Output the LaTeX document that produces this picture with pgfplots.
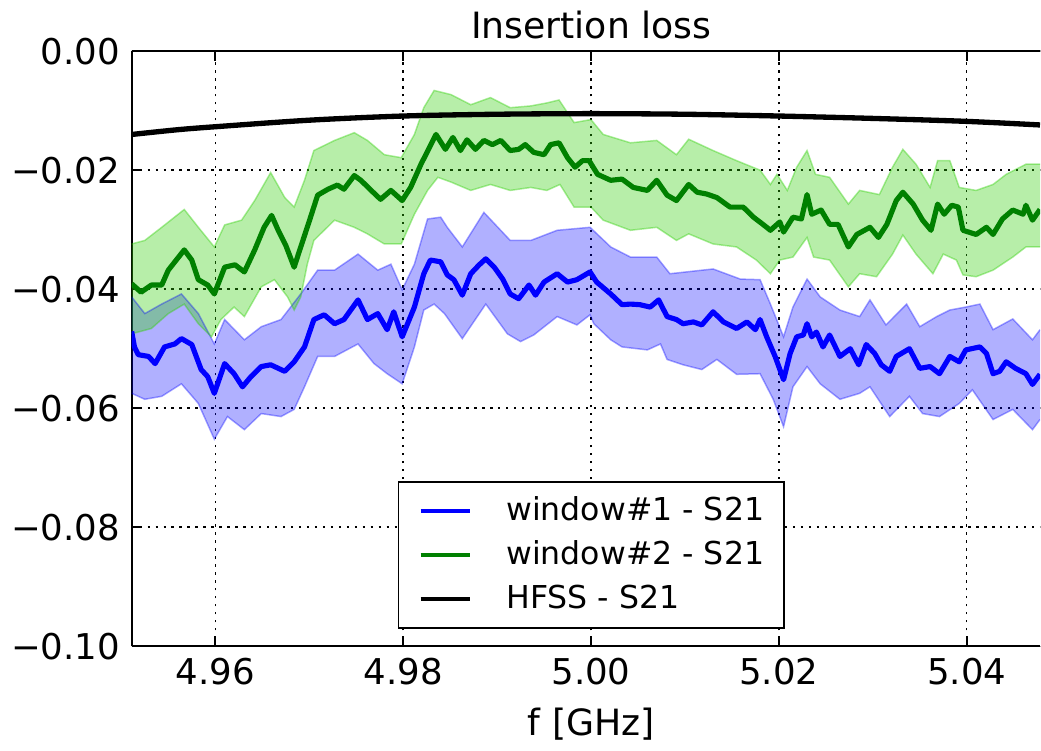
\documentclass[border=0pt]{standalone}
\usepackage{fontspec}
\setmainfont{DejaVu Sans}
\usepackage{pgfplots}
\pgfplotsset{compat=1.18}
\usepgfplotslibrary{fillbetween}
\definecolor{bandgreen}{rgb}{0.19,0.81,0.03}
\definecolor{mplgreen}{rgb}{0,0.5,0}
\begin{document}
\begin{tikzpicture}
\begin{axis}[
  scale only axis, width=273.6pt, height=179.25pt,
  xmin=4.9511, xmax=5.0478, ymin=-0.10, ymax=0,
  axis x line*=box, axis y line*=left,
  tick align=inside, major tick length=3pt,
  xtick={4.96,4.98,5.00,5.02,5.04},
  xticklabels={4.96,4.98,5.00,5.02,5.04},
  ytick={-0.10,-0.08,-0.06,-0.04,-0.02,0},
  yticklabels={−0.10,−0.08,−0.06,−0.04,−0.02,0.00},
  ticklabel style={font=\fontsize{10.7}{12}\selectfont},
  grid=major,
  grid style={black, line width=0.45pt, dash pattern=on 0.7pt off 1.7pt},
  axis line style={line width=0.6pt},
  every tick/.style={black, line width=0.6pt},
  every axis title shift=0pt,
  title={Insertion loss},
  title style={font=\fontsize{10.9}{12}\selectfont, at={(0.506,1)}, anchor=base, yshift=3.8pt},
  xlabel={f [GHz]},
  xlabel style={font=\fontsize{10.9}{12}\selectfont, at={(ticklabel cs:0.506)}},
  legend style={at={(0.506,0.0285)}, anchor=south, draw=black, line width=0.6pt,
    font=\fontsize{9.5}{11}\selectfont, inner xsep=6pt, inner ysep=4.5pt, row sep=4.6pt,
    nodes={inner sep=0pt},
    /tikz/every odd column/.append style={column sep=10.2pt}},
  legend cell align=left,
  legend image code/.code={\draw[#1, line width=1.3pt] (0pt,0pt) -- (15pt,0pt);},
]
% ---- blue band (window #1)
\addplot[name path=bu, draw=blue, draw opacity=0.35, line width=0.45pt, forget plot] table {
4.9511 -0.0413
4.9525 -0.0441
4.9543 -0.0425
4.9564 -0.0408
4.9582 -0.0441
4.9599 -0.0492
4.9610 -0.0451
4.9631 -0.0485
4.9649 -0.0463
4.9670 -0.0451
4.9691 -0.0408
4.9709 -0.0368
4.9727 -0.0368
4.9752 -0.0341
4.9773 -0.0368
4.9787 -0.0358
4.9799 -0.0401
4.9812 -0.0358
4.9826 -0.0282
4.9840 -0.0279
4.9847 -0.0296
4.9863 -0.0329
4.9886 -0.0271
4.9914 -0.0318
4.9936 -0.0318
4.9964 -0.0301
4.9999 -0.0296
5.0021 -0.0329
5.0042 -0.0346
5.0070 -0.0346
5.0084 -0.0374
5.0130 -0.0366
5.0159 -0.0383
5.0180 -0.0384
5.0191 -0.0425
5.0205 -0.0480
5.0215 -0.0430
5.0230 -0.0383
5.0244 -0.0413
5.0265 -0.0435
5.0286 -0.0446
5.0297 -0.0418
5.0314 -0.0460
5.0336 -0.0425
5.0350 -0.0463
5.0368 -0.0446
5.0382 -0.0435
5.0399 -0.0430
5.0414 -0.0425
5.0428 -0.0468
5.0449 -0.0450
5.0470 -0.0485
5.0478 -0.0468
};
\addplot[name path=bl, draw=blue, draw opacity=0.35, line width=0.45pt, forget plot] table {
4.9511 -0.0575
4.9525 -0.0585
4.9543 -0.0580
4.9564 -0.0559
4.9582 -0.0592
4.9599 -0.0652
4.9613 -0.0614
4.9631 -0.0636
4.9649 -0.0609
4.9670 -0.0614
4.9684 -0.0602
4.9695 -0.0564
4.9709 -0.0513
4.9727 -0.0513
4.9752 -0.0492
4.9769 -0.0525
4.9783 -0.0542
4.9799 -0.0559
4.9812 -0.0497
4.9822 -0.0435
4.9833 -0.0425
4.9844 -0.0441
4.9863 -0.0483
4.9888 -0.0425
4.9911 -0.0475
4.9925 -0.0488
4.9939 -0.0477
4.9964 -0.0446
4.9985 -0.0460
4.9999 -0.0443
5.0003 -0.0458
5.0021 -0.0485
5.0033 -0.0497
5.0060 -0.0502
5.0074 -0.0492
5.0081 -0.0518
5.0098 -0.0527
5.0118 -0.0535
5.0134 -0.0518
5.0155 -0.0543
5.0180 -0.0542
5.0194 -0.0585
5.0205 -0.0631
5.0215 -0.0564
5.0230 -0.0530
5.0244 -0.0559
5.0265 -0.0585
5.0286 -0.0575
5.0297 -0.0564
5.0318 -0.0614
5.0339 -0.0580
5.0353 -0.0609
5.0371 -0.0614
5.0392 -0.0592
5.0406 -0.0569
5.0428 -0.0619
5.0449 -0.0602
5.0470 -0.0636
5.0478 -0.0619
};
\addplot[fill=blue, fill opacity=0.31, draw=none, forget plot] fill between[of=bu and bl];
% ---- green band (window #2)
\addplot[name path=gu, draw=bandgreen, draw opacity=0.4, line width=0.45pt, forget plot] table {
4.9511 -0.0324
4.9525 -0.0318
4.9543 -0.0296
4.9567 -0.0266
4.9582 -0.0296
4.9599 -0.0329
4.9610 -0.0292
4.9628 -0.0284
4.9642 -0.0251
4.9659 -0.0204
4.9674 -0.0246
4.9684 -0.0262
4.9695 -0.0217
4.9705 -0.0167
4.9727 -0.0150
4.9748 -0.0137
4.9762 -0.0150
4.9780 -0.0174
4.9798 -0.0179
4.9812 -0.0140
4.9822 -0.0095
4.9833 -0.0066
4.9851 -0.0073
4.9872 -0.0090
4.9893 -0.0078
4.9914 -0.0095
4.9936 -0.0092
4.9953 -0.0087
4.9966 -0.0082
4.9982 -0.0120
5.0000 -0.0115
5.0013 -0.0140
5.0042 -0.0154
5.0070 -0.0150
5.0091 -0.0174
5.0104 -0.0148
5.0130 -0.0167
5.0155 -0.0184
5.0180 -0.0200
5.0191 -0.0224
5.0198 -0.0207
5.0209 -0.0234
5.0219 -0.0195
5.0230 -0.0167
5.0239 -0.0207
5.0254 -0.0212
5.0274 -0.0257
5.0286 -0.0234
5.0307 -0.0241
5.0321 -0.0195
5.0332 -0.0165
5.0346 -0.0190
5.0361 -0.0229
5.0369 -0.0184
5.0382 -0.0184
5.0392 -0.0229
5.0410 -0.0234
5.0428 -0.0224
5.0442 -0.0207
5.0463 -0.0190
5.0478 -0.0190
};
\addplot[name path=gl, draw=bandgreen, draw opacity=0.4, line width=0.45pt, forget plot] table {
4.9511 -0.0475
4.9532 -0.0466
4.9550 -0.0441
4.9567 -0.0425
4.9582 -0.0458
4.9596 -0.0480
4.9606 -0.0451
4.9620 -0.0430
4.9631 -0.0446
4.9649 -0.0396
4.9663 -0.0384
4.9677 -0.0413
4.9684 -0.0435
4.9691 -0.0413
4.9698 -0.0358
4.9705 -0.0318
4.9727 -0.0284
4.9748 -0.0296
4.9762 -0.0307
4.9780 -0.0324
4.9798 -0.0324
4.9812 -0.0274
4.9826 -0.0234
4.9837 -0.0212
4.9851 -0.0220
4.9872 -0.0234
4.9893 -0.0224
4.9914 -0.0234
4.9936 -0.0229
4.9953 -0.0234
4.9967 -0.0224
4.9982 -0.0262
5.0000 -0.0262
5.0013 -0.0284
5.0042 -0.0301
5.0070 -0.0296
5.0091 -0.0318
5.0104 -0.0307
5.0130 -0.0324
5.0155 -0.0329
5.0176 -0.0351
5.0191 -0.0374
5.0201 -0.0351
5.0215 -0.0346
5.0230 -0.0313
5.0237 -0.0346
5.0254 -0.0351
5.0274 -0.0396
5.0286 -0.0374
5.0304 -0.0379
5.0321 -0.0341
5.0332 -0.0309
5.0346 -0.0341
5.0364 -0.0374
5.0375 -0.0341
5.0389 -0.0351
5.0396 -0.0376
5.0410 -0.0379
5.0428 -0.0368
5.0449 -0.0346
5.0463 -0.0329
5.0478 -0.0329
};
\addplot[fill=bandgreen, fill opacity=0.35, draw=none, forget plot] fill between[of=gu and gl];
% ---- window #1 - S21
\addplot[blue, line width=1.55pt, line join=round] table {
4.9511 -0.0471
4.9514 -0.0497
4.9518 -0.0510
4.9529 -0.0513
4.9536 -0.0525
4.9546 -0.0497
4.9557 -0.0492
4.9564 -0.0483
4.9575 -0.0493
4.9585 -0.0535
4.9592 -0.0547
4.9599 -0.0575
4.9610 -0.0525
4.9620 -0.0542
4.9629 -0.0564
4.9638 -0.0547
4.9649 -0.0530
4.9659 -0.0527
4.9674 -0.0538
4.9684 -0.0522
4.9695 -0.0497
4.9705 -0.0451
4.9716 -0.0443
4.9727 -0.0458
4.9737 -0.0451
4.9752 -0.0418
4.9762 -0.0451
4.9773 -0.0441
4.9783 -0.0468
4.9790 -0.0438
4.9799 -0.0480
4.9812 -0.0430
4.9822 -0.0374
4.9829 -0.0351
4.9840 -0.0354
4.9847 -0.0376
4.9854 -0.0384
4.9863 -0.0410
4.9872 -0.0374
4.9881 -0.0359
4.9888 -0.0349
4.9897 -0.0363
4.9906 -0.0383
4.9914 -0.0408
4.9923 -0.0416
4.9934 -0.0393
4.9941 -0.0410
4.9950 -0.0388
4.9964 -0.0374
4.9975 -0.0388
4.9985 -0.0384
4.9999 -0.0371
5.0006 -0.0388
5.0021 -0.0408
5.0033 -0.0426
5.0042 -0.0425
5.0052 -0.0426
5.0063 -0.0430
5.0072 -0.0418
5.0081 -0.0446
5.0091 -0.0451
5.0098 -0.0458
5.0109 -0.0455
5.0118 -0.0460
5.0130 -0.0438
5.0141 -0.0455
5.0155 -0.0466
5.0166 -0.0455
5.0175 -0.0468
5.0180 -0.0451
5.0187 -0.0480
5.0196 -0.0513
5.0205 -0.0552
5.0212 -0.0508
5.0219 -0.0480
5.0226 -0.0477
5.0230 -0.0458
5.0235 -0.0480
5.0240 -0.0472
5.0247 -0.0497
5.0254 -0.0477
5.0265 -0.0513
5.0276 -0.0500
5.0285 -0.0527
5.0293 -0.0493
5.0302 -0.0508
5.0309 -0.0527
5.0318 -0.0538
5.0325 -0.0513
5.0339 -0.0500
5.0350 -0.0533
5.0361 -0.0530
5.0371 -0.0542
5.0382 -0.0513
5.0392 -0.0522
5.0399 -0.0502
5.0414 -0.0497
5.0421 -0.0508
5.0428 -0.0542
5.0435 -0.0538
5.0442 -0.0522
5.0452 -0.0533
5.0463 -0.0542
5.0470 -0.0560
5.0478 -0.0543
};
\addlegendentry{window\#1 - S21}
% ---- window #2 - S21
\addplot[mplgreen, line width=1.55pt, line join=round] table {
4.9511 -0.0391
4.9521 -0.0405
4.9532 -0.0393
4.9543 -0.0393
4.9550 -0.0368
4.9567 -0.0334
4.9575 -0.0351
4.9582 -0.0384
4.9592 -0.0393
4.9599 -0.0408
4.9610 -0.0363
4.9621 -0.0359
4.9631 -0.0371
4.9642 -0.0334
4.9652 -0.0296
4.9660 -0.0276
4.9667 -0.0301
4.9675 -0.0326
4.9684 -0.0363
4.9691 -0.0329
4.9699 -0.0291
4.9709 -0.0242
4.9720 -0.0232
4.9730 -0.0225
4.9737 -0.0232
4.9748 -0.0209
4.9755 -0.0217
4.9766 -0.0234
4.9776 -0.0249
4.9787 -0.0234
4.9799 -0.0251
4.9808 -0.0229
4.9819 -0.0190
4.9828 -0.0162
4.9835 -0.0140
4.9845 -0.0165
4.9853 -0.0145
4.9861 -0.0167
4.9868 -0.0149
4.9877 -0.0165
4.9886 -0.0150
4.9895 -0.0157
4.9904 -0.0150
4.9914 -0.0167
4.9923 -0.0165
4.9930 -0.0157
4.9939 -0.0170
4.9950 -0.0174
4.9957 -0.0157
4.9966 -0.0154
4.9975 -0.0179
4.9983 -0.0195
4.9991 -0.0184
4.9998 -0.0184
5.0007 -0.0207
5.0021 -0.0217
5.0033 -0.0215
5.0045 -0.0229
5.0060 -0.0234
5.0070 -0.0217
5.0081 -0.0242
5.0091 -0.0251
5.0104 -0.0224
5.0113 -0.0237
5.0123 -0.0240
5.0134 -0.0246
5.0148 -0.0262
5.0162 -0.0262
5.0173 -0.0279
5.0183 -0.0291
5.0191 -0.0301
5.0201 -0.0287
5.0205 -0.0304
5.0215 -0.0279
5.0224 -0.0282
5.0230 -0.0241
5.0235 -0.0274
5.0245 -0.0267
5.0254 -0.0291
5.0263 -0.0291
5.0274 -0.0329
5.0283 -0.0308
5.0297 -0.0296
5.0306 -0.0313
5.0315 -0.0291
5.0325 -0.0251
5.0332 -0.0237
5.0343 -0.0257
5.0353 -0.0284
5.0362 -0.0301
5.0369 -0.0257
5.0376 -0.0274
5.0384 -0.0259
5.0391 -0.0262
5.0396 -0.0301
5.0410 -0.0308
5.0421 -0.0296
5.0428 -0.0308
5.0438 -0.0282
5.0449 -0.0267
5.0460 -0.0274
5.0463 -0.0259
5.0470 -0.0284
5.0478 -0.0266
};
\addlegendentry{window\#2 - S21}
% ---- HFSS - S21
\addplot[black, line width=1.6pt, smooth] table {
4.9511 -0.0140
4.9560 -0.0132
4.9600 -0.0127
4.9700 -0.0116
4.9800 -0.0109
4.9900 -0.0106
5.0000 -0.0105
5.0100 -0.0106
5.0200 -0.0109
5.0300 -0.0113
5.0400 -0.0118
5.0478 -0.0124
};
\addlegendentry{HFSS - S21}
\end{axis}
\end{tikzpicture}
\end{document}
